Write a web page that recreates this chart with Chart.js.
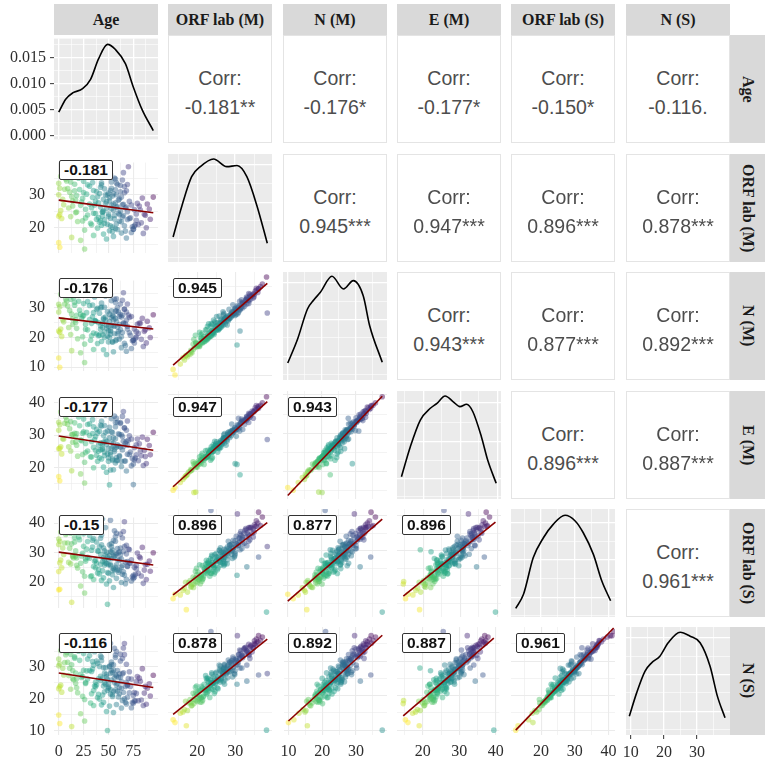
<!DOCTYPE html>
<html>
<head>
<meta charset="utf-8">
<script src="https://cdn.jsdelivr.net/npm/chart.js"></script>
<style>
  body { margin: 0; width: 765px; height: 763px; position: relative; overflow: hidden; background: #fff; }
  .cell { position: absolute; }
  .strip { position: absolute; background: #d9d9d9; color: #1a1a1a; font: bold 16px "Liberation Serif", "Times New Roman", serif;
           display: flex; align-items: center; justify-content: center; white-space: nowrap; }
  .strip.side span { writing-mode: vertical-rl; }
  .upper { position: absolute; box-sizing: border-box; border: 1px solid #e4e4e4; background: #fff;
           color: #4d4d4d; font: 19.5px "Liberation Sans", Arial, sans-serif; text-align: center; }
  .upper div { position: absolute; left: 0; right: 0; line-height: 22px; }
  .lab { position: absolute; z-index: 5; background: #fff; border: 1px solid #333; border-radius: 2px; padding: 0 4px;
         font: bold 15.5px "Liberation Sans", Arial, sans-serif; line-height: 18px; color: #111; }
</style>
</head>
<body>
<script>
// one row per sample, columns
const age = [
  0, 1, 0, 2, 1, 3, 0, 1, 5, 7, 75, 77,
  11, 12, 13, 14, 76, 16, 17, 73, 18, 19, 15, 13,
  21, 22, 23, 24, 25, 26, 27, 28, 29, 24, 26,
  31, 32, 33, 34, 35, 35, 36, 37, 38, 38, 39, 34, 36, 32,
  40, 41, 42, 43, 43, 44, 45, 45, 46, 46, 47, 47, 48, 48, 49, 49, 44, 42, 41, 50,
  50, 51, 51, 52, 52, 53, 53, 54, 54, 55, 55, 56, 56, 57, 57, 58, 58, 59, 59, 60, 52, 57,
  61, 61, 62, 62, 63, 63, 64, 64, 65, 65, 66, 66, 67, 68, 68, 69, 69,
  70, 71, 72, 18, 74, 8, 76, 9, 78, 79, 15,
  81, 83, 84, 86, 88, 89, 92, 95, 91,
  44, 46, 48, 50, 51, 52, 53, 53, 54, 55, 56, 57, 58, 59, 60, 61, 62, 63, 64, 65, 66, 67, 68,
  47, 45, 43, 42, 40, 39, 37, 35, 33, 31, 29, 27, 25, 22, 20, 17, 16, 14, 12, 10, 6, 4, 2, 0,
  71, 73, 75, 78, 80, 82, 85, 87,
  69, 55, 49, 58
];
const orfM = [
  33.5, 32.0, 30.0, 25.2, 24.0, 22.8, 15.5, 14.1, 27.0, 34.8, 19.6, 21.0,
  30.8, 23.4, 17.1, 26.6, 20.5, 33.2, 28.4, 18.6, 24.8, 21.9, 36.0, 29.5,
  31.6, 16.2, 27.8, 22.1, 34.1, 19.3, 25.6, 30.2, 23.9, 28.9, 13.6,
  32.6, 21.4, 26.1, 29.2, 17.7, 24.4, 35.3, 28.0, 22.6, 31.0, 19.9, 33.7, 26.9, 37.2,
  23.1, 30.4, 26.3, 20.8, 33.0, 24.7, 28.6, 18.1, 31.8, 22.4, 27.3, 35.6, 25.9, 16.6, 38.3, 29.9, 23.6, 32.3, 21.7, 30.5,
  24.2, 28.2, 19.1, 31.3, 22.9, 26.8, 33.9, 20.2, 29.6, 25.3, 17.4, 35.1, 23.8, 27.6, 31.5, 21.2, 30.0, 26.4, 33.1, 24.5, 36.2, 19.8,
  28.7, 22.0, 32.8, 25.0, 18.4, 29.3, 34.5, 23.3, 27.1, 36.7, 20.6, 30.6, 26.0, 31.2, 16.9, 24.9, 33.1,
  38.5, 28.0, 23.0, 29.8, 20.3, 34.2, 25.5, 31.9, 22.3, 27.4, 36.2,
  26.6, 21.5, 29.0, 24.1, 20.0, 27.2, 22.6, 29.3, 25.7,
  24.9, 21.3, 27.9, 23.5, 29.1, 20.6, 32.0, 25.8, 18.9, 30.3, 22.7, 34.8, 26.2, 19.5, 28.4, 24.0, 30.9, 21.8, 27.0, 23.7, 32.5, 19.0, 26.3,
  30.0, 25.1, 33.6, 22.2, 27.6, 29.4, 24.3, 31.3, 20.9, 27.2, 33.0, 23.0, 30.7, 26.8, 35.0, 24.6, 31.2, 28.1, 33.9, 26.0, 31.7, 28.6, 35.6, 23.5,
  22.8, 26.9, 19.6, 24.2, 21.0, 25.4, 18.3, 23.8,
  22.5, 27.2, 21.1, 33.6
];
const nM = [
  31.2, 30.4, 28.6, 22.9, 21.8, 20.4, 13.1, 10.0, 25.3, 33.0, 19.1, 19.8,
  29.1, 21.0, 15.6, 24.4, 18.2, 31.9, 26.0, 16.3, 23.1, 19.6, 33.4, 27.9,
  29.2, 14.9, 26.5, 20.3, 31.5, 17.8, 22.8, 28.4, 22.6, 27.3, 11.6,
  30.8, 19.1, 24.8, 27.0, 16.0, 21.5, 33.7, 25.6, 21.2, 29.5, 18.0, 31.0, 25.7, 35.8,
  20.6, 28.2, 23.9, 18.7, 31.6, 23.5, 26.2, 15.9, 30.2, 20.0, 25.9, 34.0, 23.2, 14.3, 37.8, 28.7, 21.0, 30.0, 20.9, 18.5,
  22.4, 25.4, 20.1, 22.5, 21.1, 24.1, 32.4, 18.4, 27.4, 24.0, 15.2, 32.9, 21.3, 26.4, 28.9, 19.3, 29.0, 23.6, 30.1, 22.0, 34.5, 18.9,
  27.1, 19.5, 31.3, 22.7, 16.6, 26.9, 32.6, 21.7, 25.0, 35.1, 18.1, 29.6, 24.6, 28.6, 15.4, 23.8, 31.3,
  27.6, 26.8, 20.8, 27.5, 18.9, 32.3, 22.9, 30.6, 20.2, 24.5, 34.4,
  24.9, 19.4, 26.5, 22.1, 18.2, 25.5, 20.0, 27.7, 23.3,
  24.8, 21.9, 24.2, 23.9, 27.9, 22.1, 29.0, 26.7, 18.7, 27.2, 23.8, 31.8, 25.5, 21.3, 28.6, 24.4, 27.8, 20.3, 27.5, 24.6, 29.5, 17.3, 25.9,
  26.9, 26.6, 30.3, 22.8, 25.1, 29.9, 25.6, 28.4, 20.6, 26.1, 32.1, 24.5, 27.4, 27.9, 32.2, 25.1, 30.9, 26.3, 32.9, 23.4, 31.3, 26.0, 34.6, 22.2,
  21.6, 27.1, 19.2, 22.0, 21.4, 24.8, 17.0, 22.6,
  22.9, 26.0, 20.5, 33.1
];
const eM = [
  34.0, 33.2, 31.5, 26.4, 25.9, 24.2, 17.2, 15.9, 28.8, 35.6, 14.7, 22.9,
  32.0, 25.1, 19.0, 27.8, 22.4, 33.8, 29.5, 20.5, 26.9, 23.5, 36.8, 30.2,
  32.9, 18.0, 28.3, 24.0, 35.0, 21.6, 27.4, 30.9, 25.1, 30.6, 15.2,
  33.5, 23.3, 28.0, 30.5, 19.9, 26.2, 36.6, 29.6, 23.8, 31.8, 21.9, 34.8, 28.6, 37.9,
  25.0, 31.2, 27.6, 22.6, 34.3, 26.0, 29.9, 20.1, 33.0, 23.7, 28.5, 36.2, 27.1, 18.5, 39.5, 31.3, 25.6, 33.1, 23.0, 21.9,
  25.9, 29.2, 14.6, 19.2, 24.6, 27.9, 35.1, 22.2, 30.8, 26.5, 19.3, 35.9, 24.9, 28.9, 32.6, 23.1, 22.1, 27.0, 34.0, 26.6, 37.0, 21.4,
  30.2, 23.4, 33.6, 26.3, 20.3, 30.1, 35.8, 25.4, 28.1, 37.3, 22.0, 32.2, 27.5, 31.5, 18.9, 26.9, 34.4,
  28.4, 29.8, 24.8, 30.5, 22.8, 34.6, 26.1, 33.4, 23.9, 28.8, 36.5,
  27.3, 23.6, 29.4, 25.3, 21.2, 28.7, 23.9, 30.9, 26.8,
  27.3, 24.8, 28.0, 23.0, 32.4, 23.9, 31.0, 26.0, 22.6, 29.2, 25.6, 33.9, 26.3, 22.2, 30.4, 23.7, 33.9, 21.9, 29.6, 26.5, 32.3, 22.0, 28.1,
  30.9, 27.8, 32.8, 25.5, 26.9, 30.7, 25.3, 32.6, 23.2, 29.9, 33.3, 24.6, 31.0, 28.5, 35.6, 27.9, 30.6, 30.2, 34.2, 26.4, 33.7, 28.9, 37.2, 25.8,
  24.0, 28.8, 21.1, 27.0, 22.1, 25.1, 20.6, 23.4,
  24.1, 27.5, 24.2, 35.2
];
const orfS = [
  34.6, 33.9, 32.8, 27.5, 26.6, 24.9, 17.4, 17.6, 29.4, 36.2, 21.2, 22.6,
  31.5, 26.2, 13.2, 29.0, 21.7, 35.1, 30.6, 20.4, 25.7, 24.8, 37.9, 33.0,
  34.4, 18.7, 28.9, 23.5, 36.4, 22.0, 27.9, 31.2, 28.4, 29.8, 16.3,
  35.8, 21.9, 30.8, 31.9, 20.9, 25.3, 36.9, 27.4, 26.5, 33.6, 23.1, 34.2, 27.1, 39.6,
  24.3, 32.0, 29.4, 20.6, 36.0, 23.9, 31.6, 21.5, 30.6, 27.3, 26.5, 38.5, 30.1, 19.4, 12.5, 28.6, 41.5, 34.9, 22.8, 23.0,
  26.0, 32.7, 20.5, 30.3, 25.6, 28.0, 33.1, 23.9, 30.9, 24.6, 18.2, 37.4, 28.8, 29.3, 35.5, 21.3, 29.7, 27.7, 31.4, 23.4, 41.0, 25.0,
  30.3, 24.1, 36.3, 29.2, 19.9, 27.8, 35.0, 22.7, 30.4, 37.2, 22.4, 40.5, 26.8, 32.5, 21.0, 27.0, 25.4,
  31.2, 31.1, 26.4, 28.2, 21.8, 36.7, 25.1, 33.3, 24.5, 29.9, 28.2,
  28.6, 22.1, 31.8, 24.1, 20.9, 26.1, 23.7, 30.0, 27.2,
  27.0, 25.8, 26.3, 27.8, 29.0, 26.0, 32.0, 30.2, 22.5, 34.1, 24.2, 33.9, 25.9, 24.1, 30.0, 27.4, 31.6, 25.1, 25.7, 23.5, 32.1, 19.5, 29.6,
  29.1, 28.3, 32.7, 26.1, 30.5, 30.6, 24.9, 34.8, 22.2, 28.1, 33.8, 27.1, 32.2, 26.4, 35.3, 28.9, 33.6, 28.6, 36.6, 26.7, 33.3, 31.6, 37.0, 23.6,
  26.5, 27.6, 22.3, 25.7, 23.0, 28.2, 19.6, 26.0,
  25.3, 28.9, 23.3, 36.6
];
const nS = [
  32.5, 31.0, 30.4, 24.3, 23.8, 22.1, 14.9, 12.2, 27.5, 33.9, 18.6, 19.4,
  29.6, 23.0, 11.3, 26.3, 19.3, 32.8, 28.1, 17.2, 23.5, 21.9, 35.6, 30.7,
  32.1, 15.3, 26.7, 20.8, 34.3, 19.8, 25.1, 28.8, 26.2, 27.0, 13.0,
  33.6, 18.7, 28.6, 29.4, 17.9, 22.6, 34.8, 25.2, 24.4, 31.9, 20.4, 31.7, 24.0, 37.0,
  21.4, 30.2, 27.1, 18.1, 33.1, 21.2, 29.8, 18.9, 28.0, 25.0, 24.6, 36.4, 27.7, 16.0, 10.0, 26.1, 38.6, 33.5, 19.9, 23.3,
  23.7, 30.3, 17.7, 28.0, 22.9, 25.9, 30.8, 21.3, 28.3, 22.3, 15.7, 35.9, 26.6, 27.6, 33.0, 18.2, 27.2, 24.8, 28.9, 20.6, 37.4, 22.8,
  27.9, 21.6, 34.0, 26.8, 17.1, 25.4, 32.7, 19.5, 28.2, 36.0, 20.0, 37.4, 23.9, 30.9, 18.4, 24.4, 24.2,
  26.4, 28.5, 23.9, 26.4, 18.8, 34.6, 22.0, 31.5, 21.7, 27.0, 26.0,
  26.5, 19.6, 29.5, 21.8, 18.3, 23.3, 20.9, 27.4, 24.7,
  26.5, 22.2, 26.9, 24.6, 30.1, 21.5, 31.6, 28.9, 20.7, 30.7, 25.1, 33.8, 24.4, 22.4, 26.8, 23.5, 31.9, 23.3, 27.9, 22.0, 33.9, 18.9, 25.2,
  29.8, 24.0, 32.0, 25.8, 26.3, 31.2, 23.8, 30.6, 21.6, 28.9, 32.5, 24.8, 29.0, 27.7, 35.0, 24.9, 33.2, 28.9, 34.0, 27.3, 31.4, 29.6, 35.2, 23.2,
  21.9, 26.2, 21.0, 25.4, 19.4, 25.5, 17.9, 23.9,
  20.5, 29.1, 22.7, 34.9
];

// density curves on the diagonal (Age in real units, the others scaled to panel height)
const ageDensityX = [0, 7, 14, 24, 32, 40, 49, 57, 67, 75, 84, 95];
const ageDensityY = [0.0045, 0.0070, 0.0082, 0.0090, 0.0108, 0.0147, 0.0175, 0.0165, 0.0138, 0.0093, 0.0049, 0.0010];
const orfMDensityX = [13.6, 15.9, 18.5, 20.8, 24.3, 27.8, 30.5, 33.1, 35.8, 38.5];
const orfMDensityY = [0.232, 0.517, 0.79, 0.883, 0.954, 0.883, 0.893, 0.79, 0.517, 0.174];
const nMDensityX = [10, 12.9, 15.8, 17.7, 19.6, 23.0, 26.4, 29.3, 32.2, 34.1, 37.8];
const nMDensityY = [0.157, 0.38, 0.657, 0.743, 0.812, 0.96, 0.843, 0.92, 0.78, 0.503, 0.164];
const eMDensityX = [14.1, 16.5, 19.2, 21.9, 23.7, 25.9, 28.1, 29.9, 31.7, 33.4, 35.7, 37.4, 39.7];
const eMDensityY = [0.206, 0.484, 0.731, 0.84, 0.886, 0.954, 0.90, 0.855, 0.877, 0.808, 0.577, 0.361, 0.145];
const orfSDensityX = [12.5, 14.8, 17.7, 20.7, 23.6, 27.1, 30.1, 32.5, 35.5, 38.0, 40.6];
const orfSDensityY = [0.08, 0.21, 0.55, 0.734, 0.858, 0.942, 0.889, 0.78, 0.58, 0.333, 0.15];
const nSDensityX = [9.6, 11.8, 14.3, 16.3, 18.8, 21.3, 24.9, 27.9, 30.9, 33.9, 36.1, 38.4];
const nSDensityY = [0.174, 0.39, 0.59, 0.668, 0.73, 0.854, 0.952, 0.915, 0.854, 0.637, 0.36, 0.16];

// labels
const varNames = ['Age', 'ORF lab (M)', 'N (M)', 'E (M)', 'ORF lab (S)', 'N (S)'];
const corrLower = [
  ['-0.181'],
  ['-0.176', '0.945'],
  ['-0.177', '0.947', '0.943'],
  ['-0.15', '0.896', '0.877', '0.896'],
  ['-0.116', '0.878', '0.892', '0.887', '0.961']
];
const corrUpper = [
  ['-0.181**', '-0.176*', '-0.177*', '-0.150*', '-0.116.'],
  ['0.945***', '0.947***', '0.896***', '0.878***'],
  ['0.943***', '0.877***', '0.892***'],
  ['0.896***', '0.887***'],
  ['0.961***']
];

// axes: limits, grid values, labelled ticks
const axisMin = [-4.75, 12.25, 8.6, 12.9, 11.1, 8.6];
const axisMax = [99.75, 39.75, 39.2, 41.0, 41.9, 39.9];
const gridTicks = [
  [0, 12.5, 25, 37.5, 50, 62.5, 75, 87.5],
  [15, 20, 25, 30, 35],
  [10, 15, 20, 25, 30, 35],
  [15, 20, 25, 30, 35, 40],
  [15, 20, 25, 30, 35, 40],
  [10, 15, 20, 25, 30, 35]
];
const majorTicks = [[0, 25, 50, 75], [20, 30], [10, 20, 30], [20, 30, 40], [20, 30, 40], [10, 20, 30]];
const densityGrid = [0, 0.0025, 0.005, 0.0075, 0.01, 0.0125, 0.015, 0.0175];
const densityMajor = [0, 0.005, 0.01, 0.015];
const densityLabels = ['0.000', '0.005', '0.010', '0.015'];
const diagGrid = [
  null,
  [0.046, 0.21, 0.38, 0.55, 0.73, 0.90],
  [0.05, 0.22, 0.39, 0.56, 0.73, 0.90],
  [0.02, 0.19, 0.36, 0.53, 0.71, 0.89],
  [0.01, 0.18, 0.36, 0.53, 0.70, 0.87],
  [0.05, 0.22, 0.39, 0.56, 0.73, 0.90]
];

const varData = [age, orfM, nM, eM, orfS, nS];
const densX = [ageDensityX, orfMDensityX, nMDensityX, eMDensityX, orfSDensityX, nSDensityX];
const densY = [ageDensityY, orfMDensityY, nMDensityY, eMDensityY, orfSDensityY, nSDensityY];

// layout
const colX = [54, 168, 283, 397, 511, 626];
const rowY = [35, 154, 272, 391, 509, 627];
const panelW = 104, panelH = 108;
const P = 10, yAxisW = 54, xAxisH = 27;

const viridisStops = ['#440154', '#482878', '#3e4a89', '#31688e', '#26828e', '#1f9e89', '#35b779', '#6ece58', '#b5de2b', '#fde725'];
function viridis(t, a) {
  t = Math.max(0, Math.min(1, t));
  const s = t * (viridisStops.length - 1);
  const k = Math.min(viridisStops.length - 2, Math.floor(s));
  const f = s - k;
  const c0 = viridisStops[k], c1 = viridisStops[k + 1];
  const ch = (c, p) => parseInt(c.substr(p, 2), 16);
  const mix = p => Math.round(ch(c0, p) + (ch(c1, p) - ch(c0, p)) * f);
  return `rgba(${mix(1)},${mix(3)},${mix(5)},${a})`;
}

function linFit(xs, ys) {
  const n = xs.length;
  const mx = xs.reduce((s, v) => s + v, 0) / n;
  const my = ys.reduce((s, v) => s + v, 0) / n;
  let sxy = 0, sxx = 0;
  xs.forEach((v, k) => { sxy += (v - mx) * (ys[k] - my); sxx += (v - mx) * (v - mx); });
  const b = sxy / sxx;
  return { b, a: my - b * mx };
}

const bgPlugin = {
  id: 'bg',
  beforeDraw(chart, args, opts) {
    const a = chart.chartArea, c = chart.ctx;
    c.save();
    c.fillStyle = opts.color;
    c.fillRect(a.left, a.top, a.right - a.left, a.bottom - a.top);
    c.restore();
  }
};

function axis(isX, min, max, grid, majors, labels, o) {
  const isMajor = c => c.tick && majors.indexOf(c.tick.value) >= 0;
  return {
    type: 'linear', min, max, position: isX ? 'bottom' : 'left',
    afterBuildTicks: s => { s.ticks = grid.map(v => ({ value: v })); },
    afterFit: s => { if (isX) s.height = o.size; else s.width = o.size; },
    border: { display: false },
    grid: {
      color: o.diag ? '#ffffff' : '#ebebeb',
      lineWidth: c => isMajor(c) ? (o.diag ? 1.3 : 1.1) : 0.6,
      drawTicks: o.marks, tickLength: 4, tickWidth: 1,
      tickColor: c => isMajor(c) ? '#333333' : 'rgba(0,0,0,0)'
    },
    ticks: {
      display: o.show, autoSkip: false, maxRotation: 0,
      padding: o.marks ? 4 : (isX ? 7 : 9),
      color: '#2e2e2e', font: { family: 'Liberation Serif', size: 16 },
      callback: v => { const k = majors.indexOf(v); return k < 0 ? '' : labels[k]; }
    }
  };
}

function addDiv(cls, x, y, w, h) {
  const d = document.createElement('div');
  d.className = cls;
  d.style.left = x + 'px'; d.style.top = y + 'px';
  if (w != null) d.style.width = w + 'px';
  if (h != null) d.style.height = h + 'px';
  document.body.appendChild(d);
  return d;
}

function makePanel(i, j) {
  const diag = i === j;
  const extraL = j === 0 ? yAxisW : 0;
  const extraB = i === 5 ? xAxisH : 0;
  const w = panelW + 2 * P + extraL, h = panelH + 2 * P + extraB;
  const box = addDiv('cell', colX[j] - P - extraL, rowY[i] - P, w, h);
  const cv = document.createElement('canvas');
  cv.width = w; cv.height = h;
  cv.style.width = w + 'px'; cv.style.height = h + 'px';
  box.appendChild(cv);

  const xLabels = majorTicks[j].map(String);
  const xScale = axis(true, axisMin[j], axisMax[j], gridTicks[j], majorTicks[j], xLabels,
    { size: extraB, show: i === 5, marks: i === 5 && diag, diag });
  let yScale, datasets;

  if (diag) {
    const pts = densX[i].map((v, k) => ({ x: v, y: densY[i][k] }));
    if (i === 0) {
      yScale = axis(false, -0.0007, 0.0186, densityGrid, densityMajor, densityLabels,
        { size: extraL, show: true, marks: true, diag: true });
    } else {
      yScale = axis(false, 0, 1, diagGrid[i], [diagGrid[i][1], diagGrid[i][3], diagGrid[i][5]], ['', '', ''],
        { size: extraL, show: false, marks: false, diag: true });
    }
    datasets = [{ data: pts, showLine: true, pointRadius: 0, borderColor: '#000', borderWidth: 1.6,
                  cubicInterpolationMode: 'monotone', fill: false }];
  } else {
    const xs = varData[j], ys = varData[i];
    const yLabels = majorTicks[i].map(String);
    yScale = axis(false, axisMin[i], axisMax[i], gridTicks[i], majorTicks[i], yLabels,
      { size: extraL, show: j === 0, marks: false, diag: false });
    const sums = xs.map((v, k) => v + ys[k]);
    const lo = Math.min(...sums), hi = Math.max(...sums);
    const colors = sums.map(s => viridis(1 - (s - lo) / (hi - lo), 0.45));
    const fit = linFit(xs, ys);
    const x0 = Math.min(...xs), x1 = Math.max(...xs);
    datasets = [
      { data: [{ x: x0, y: fit.a + fit.b * x0 }, { x: x1, y: fit.a + fit.b * x1 }], showLine: true,
        pointRadius: 0, borderColor: '#8b0000', borderWidth: 1.6, fill: false },
      { data: xs.map((v, k) => ({ x: v, y: ys[k] })), pointRadius: 2.8, pointBorderWidth: 0,
        pointBackgroundColor: colors, pointBorderColor: colors }
    ];
  }

  new Chart(cv, {
    type: 'scatter',
    data: { datasets },
    plugins: [bgPlugin],
    options: {
      responsive: false, animation: false, events: [],
      layout: { padding: P },
      scales: { x: xScale, y: yScale },
      plugins: { legend: { display: false }, tooltip: { enabled: false }, bg: { color: diag ? '#ebebeb' : '#ffffff' } }
    }
  });
}

for (let i = 0; i < 6; i++) {
  for (let j = 0; j < 6; j++) {
    if (j <= i) {
      makePanel(i, j);
    } else {
      const u = addDiv('upper', colX[j], rowY[i], panelW, panelH);
      const t1 = document.createElement('div'); t1.style.top = '31px'; t1.textContent = 'Corr:';
      const t2 = document.createElement('div'); t2.style.top = '60px'; t2.textContent = corrUpper[i][j - i - 1];
      u.appendChild(t1); u.appendChild(t2);
    }
  }
}

for (let i = 1; i < 6; i++) {
  for (let j = 0; j < i; j++) {
    addDiv('lab', colX[j] + 5, rowY[i] + 6).textContent = corrLower[i - 1][j];
  }
}

varNames.forEach((name, k) => {
  const top = addDiv('strip', colX[k], 4, panelW, 31);
  top.textContent = name;
  const side = addDiv('strip side', 730, rowY[k], 35, panelH);
  const s = document.createElement('span'); s.textContent = name;
  side.appendChild(s);
});
</script>
</body>
</html>
